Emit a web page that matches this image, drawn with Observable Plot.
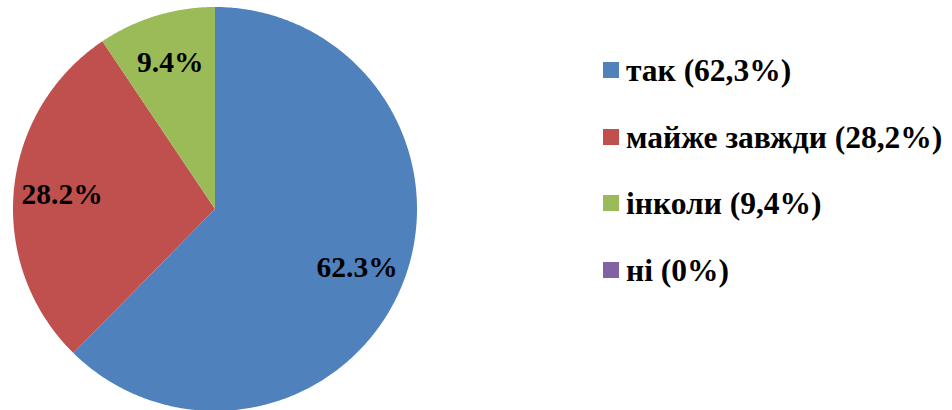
<!DOCTYPE html>
<html>
<head>
<meta charset="utf-8">
<script src="https://cdn.jsdelivr.net/npm/d3@7"></script>
<script src="https://cdn.jsdelivr.net/npm/@observablehq/plot@0.6"></script>
<style>
  html, body { margin: 0; padding: 0; background: #fff; }
  #wrap { position: relative; width: 952px; height: 410px; overflow: hidden; }
  #legend { position: absolute; left: 603px; top: 0; font-family: "Liberation Serif", "Times New Roman", serif; font-weight: bold; font-size: 31.5px; color: #000; }
  .row { position: absolute; left: 0; display: flex; align-items: center; white-space: nowrap; height: 36px; }
  .sw { width: 16px; height: 16px; margin-right: 7px; flex: none; }
  .tx { position: relative; top: 1px; }
</style>
</head>
<body>
<div id="wrap"></div>
<script>
const categories = ["так", "майже завжди", "інколи", "ні"];
const values = [62.3, 28.2, 9.4, 0];
const legendLabels = ["так (62,3%)", "майже завжди (28,2%)", "інколи (9,4%)", "ні (0%)"];
const colors = ["#4F81BD", "#C0504D", "#9BBB59", "#8064A2"];

const data = categories.map((c, i) => ({cat: c, value: values[i]}));
const arcs = d3.pie().sort(null).value(d => d.value)(data);

// slice polygons in unit-circle coordinates (y up)
const poly = [];
arcs.forEach(a => {
  if (a.endAngle - a.startAngle <= 0) return;
  poly.push({cat: a.data.cat, x: 0, y: 0});
  const n = Math.max(2, Math.ceil((a.endAngle - a.startAngle) / (Math.PI / 360)));
  for (let k = 0; k <= n; k++) {
    const t = a.startAngle + (a.endAngle - a.startAngle) * k / n;
    poly.push({cat: a.data.cat, x: Math.sin(t), y: Math.cos(t)});
  }
  poly.push({cat: a.data.cat, x: 0, y: 0});
});

const labelR = 0.76;
const labels = arcs.filter(a => a.data.value > 0).map(a => {
  const m = (a.startAngle + a.endAngle) / 2;
  return {x: labelR * Math.sin(m), y: labelR * Math.cos(m), text: a.data.value.toFixed(1) + "%"};
});

const cx = 214.5, cy = 208.5, R = 202;

const chart = Plot.plot({
  width: 952,
  height: 410,
  margin: 0,
  style: {background: "transparent"},
  x: {domain: [-1, 1], range: [cx - R, cx + R], axis: null},
  y: {domain: [-1, 1], range: [cy + R, cy - R], axis: null},
  color: {domain: categories, range: colors},
  marks: [
    Plot.line(poly, {x: "x", y: "y", z: "cat", fill: "cat", stroke: "none", curve: "linear"}),
    Plot.text(labels, {x: "x", y: "y", text: "text", fontSize: 29.5, fontWeight: "bold",
      fontFamily: "Liberation Serif", fill: "#000", textAnchor: "middle", lineAnchor: "middle"})
  ]
});

const wrap = document.getElementById("wrap");
wrap.appendChild(chart);

const legend = document.createElement("div");
legend.id = "legend";
legendLabels.forEach((lab, i) => {
  const row = document.createElement("div");
  row.className = "row";
  row.style.top = (70 + i * 66.5 - 18) + "px";
  const sw = document.createElement("span");
  sw.className = "sw";
  sw.style.background = colors[i];
  const tx = document.createElement("span");
  tx.className = "tx";
  tx.textContent = lab;
  row.appendChild(sw);
  row.appendChild(tx);
  legend.appendChild(row);
});
wrap.appendChild(legend);
</script>
</body>
</html>
